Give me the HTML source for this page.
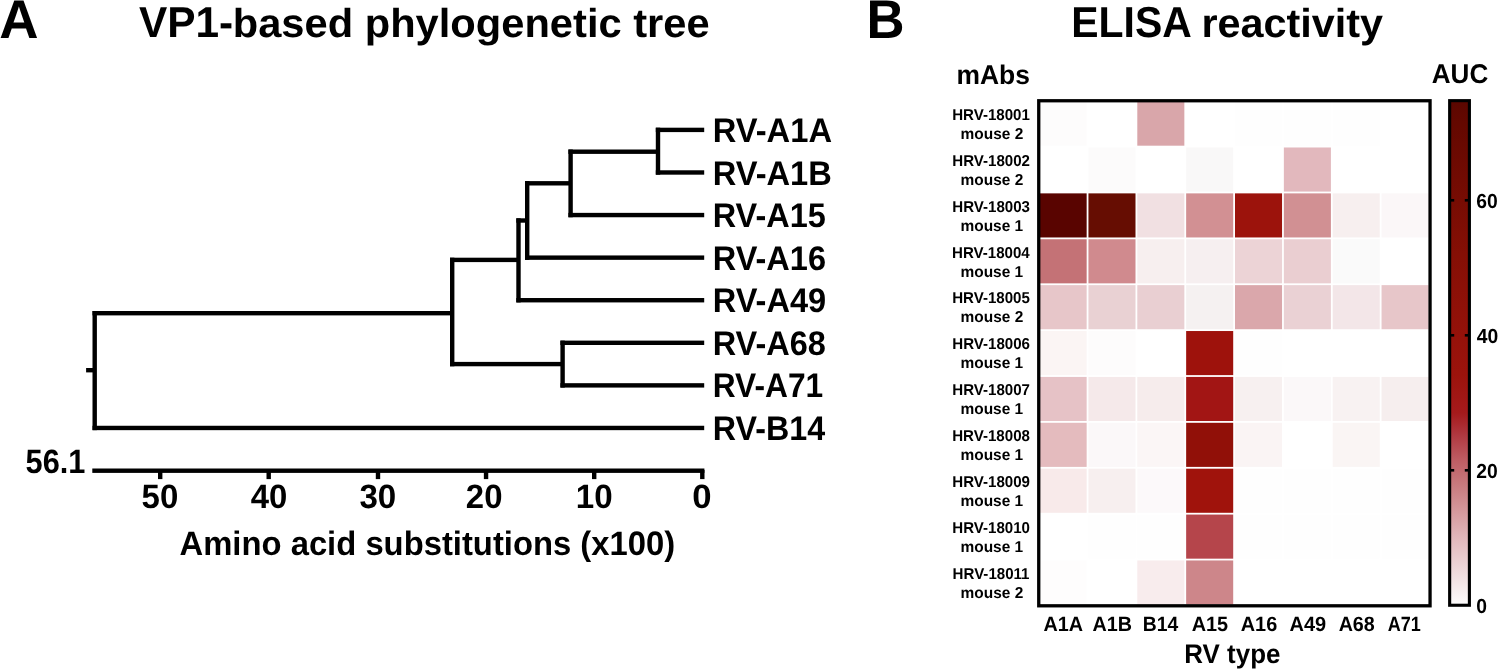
<!DOCTYPE html>
<html><head><meta charset="utf-8"><title>Figure</title>
<style>
html,body{margin:0;padding:0;background:#fff;width:1498px;height:669px;overflow:hidden}
svg{display:block;will-change:transform}
text{font-family:"Liberation Sans",sans-serif;font-weight:bold;fill:#000;text-rendering:geometricPrecision}
</style></head><body>
<svg width="1498" height="669" viewBox="0 0 1498 669">
<rect width="1498" height="669" fill="#fff"/>
<defs><linearGradient id="cb" x1="0" y1="102.3" x2="0" y2="605.3" gradientUnits="userSpaceOnUse"><stop offset="0.0000" stop-color="#5c0700"/><stop offset="0.0451" stop-color="#640800"/><stop offset="0.3036" stop-color="#850f05"/><stop offset="0.5421" stop-color="#9c130c"/><stop offset="0.6177" stop-color="#a51a1c"/><stop offset="0.6614" stop-color="#b03840"/><stop offset="0.7111" stop-color="#be5d63"/><stop offset="0.7608" stop-color="#c87a7e"/><stop offset="0.8602" stop-color="#e0b4b8"/><stop offset="0.9298" stop-color="#eed8da"/><stop offset="0.9895" stop-color="#fbf7f7"/><stop offset="1.0000" stop-color="#ffffff"/></linearGradient></defs>
<rect x="655.80" y="127.70" width="4.40" height="46.98" fill="#000"/>
<rect x="655.80" y="127.70" width="48.40" height="4.40" fill="#000"/>
<rect x="655.80" y="170.28" width="48.40" height="4.40" fill="#000"/>
<rect x="568.40" y="149.50" width="4.40" height="67.76" fill="#000"/>
<rect x="568.40" y="149.50" width="89.60" height="4.40" fill="#000"/>
<rect x="568.40" y="212.86" width="135.80" height="4.40" fill="#000"/>
<rect x="525.00" y="181.10" width="4.40" height="78.74" fill="#000"/>
<rect x="525.00" y="181.10" width="45.60" height="4.40" fill="#000"/>
<rect x="525.00" y="255.44" width="179.20" height="4.40" fill="#000"/>
<rect x="516.30" y="218.30" width="4.40" height="84.12" fill="#000"/>
<rect x="516.30" y="218.30" width="10.90" height="4.40" fill="#000"/>
<rect x="516.30" y="298.02" width="187.90" height="4.40" fill="#000"/>
<rect x="560.40" y="340.60" width="4.40" height="46.98" fill="#000"/>
<rect x="560.40" y="340.60" width="143.80" height="4.40" fill="#000"/>
<rect x="560.40" y="383.18" width="143.80" height="4.40" fill="#000"/>
<rect x="450.00" y="257.70" width="4.40" height="108.59" fill="#000"/>
<rect x="450.00" y="257.70" width="68.50" height="4.40" fill="#000"/>
<rect x="450.00" y="361.89" width="112.60" height="4.40" fill="#000"/>
<rect x="92.50" y="311.00" width="4.40" height="119.16" fill="#000"/>
<rect x="92.50" y="311.00" width="359.70" height="4.40" fill="#000"/>
<rect x="92.50" y="425.76" width="611.70" height="4.40" fill="#000"/>
<rect x="86.10" y="368.00" width="8.60" height="4.40" fill="#000"/>
<rect x="92.30" y="468.50" width="612.10" height="4.40" fill="#000"/>
<rect x="700.10" y="470.00" width="4.40" height="9.10" fill="#000"/>
<rect x="592.00" y="470.00" width="4.40" height="9.10" fill="#000"/>
<rect x="483.85" y="470.00" width="4.40" height="9.10" fill="#000"/>
<rect x="375.80" y="470.00" width="4.40" height="9.10" fill="#000"/>
<rect x="266.50" y="470.00" width="4.40" height="9.10" fill="#000"/>
<rect x="158.00" y="470.00" width="4.40" height="9.10" fill="#000"/>
<rect x="1039.60" y="101.60" width="47.05" height="44.09" fill="#fdfcfc"/>
<rect x="1137.30" y="101.60" width="47.05" height="44.09" fill="#d9a6aa"/>
<rect x="1235.00" y="101.60" width="47.05" height="44.09" fill="#fefefe"/>
<rect x="1283.85" y="101.60" width="47.05" height="44.09" fill="#fefefe"/>
<rect x="1332.70" y="101.60" width="47.05" height="44.09" fill="#fefefe"/>
<rect x="1088.45" y="147.49" width="47.05" height="44.09" fill="#fcfbfb"/>
<rect x="1186.15" y="147.49" width="47.05" height="44.09" fill="#f9f8f8"/>
<rect x="1283.85" y="147.49" width="47.05" height="44.09" fill="#e2b8bd"/>
<rect x="1039.60" y="193.37" width="47.05" height="44.09" fill="#590400"/>
<rect x="1088.45" y="193.37" width="47.05" height="44.09" fill="#660d02"/>
<rect x="1137.30" y="193.37" width="47.05" height="44.09" fill="#f1e0e2"/>
<rect x="1186.15" y="193.37" width="47.05" height="44.09" fill="#d29093"/>
<rect x="1235.00" y="193.37" width="47.05" height="44.09" fill="#9c130c"/>
<rect x="1283.85" y="193.37" width="47.05" height="44.09" fill="#d19093"/>
<rect x="1332.70" y="193.37" width="47.05" height="44.09" fill="#f7efef"/>
<rect x="1381.55" y="193.37" width="47.05" height="44.09" fill="#fbf7f8"/>
<rect x="1039.60" y="239.26" width="47.05" height="44.09" fill="#c47276"/>
<rect x="1088.45" y="239.26" width="47.05" height="44.09" fill="#d08a8e"/>
<rect x="1137.30" y="239.26" width="47.05" height="44.09" fill="#f7efef"/>
<rect x="1186.15" y="239.26" width="47.05" height="44.09" fill="#f6eff0"/>
<rect x="1235.00" y="239.26" width="47.05" height="44.09" fill="#ecd3d6"/>
<rect x="1283.85" y="239.26" width="47.05" height="44.09" fill="#eaced1"/>
<rect x="1332.70" y="239.26" width="47.05" height="44.09" fill="#fafafa"/>
<rect x="1039.60" y="285.14" width="47.05" height="44.09" fill="#e7c6c9"/>
<rect x="1088.45" y="285.14" width="47.05" height="44.09" fill="#e9d1d3"/>
<rect x="1137.30" y="285.14" width="47.05" height="44.09" fill="#e9cfd2"/>
<rect x="1186.15" y="285.14" width="47.05" height="44.09" fill="#f5f1f1"/>
<rect x="1235.00" y="285.14" width="47.05" height="44.09" fill="#daa7ab"/>
<rect x="1283.85" y="285.14" width="47.05" height="44.09" fill="#ead1d4"/>
<rect x="1332.70" y="285.14" width="47.05" height="44.09" fill="#f3e6e8"/>
<rect x="1381.55" y="285.14" width="47.05" height="44.09" fill="#e7c6c9"/>
<rect x="1039.60" y="331.03" width="47.05" height="44.09" fill="#fbf5f4"/>
<rect x="1088.45" y="331.03" width="47.05" height="44.09" fill="#fdfcfc"/>
<rect x="1186.15" y="331.03" width="47.05" height="44.09" fill="#9e120c"/>
<rect x="1235.00" y="331.03" width="47.05" height="44.09" fill="#fefefe"/>
<rect x="1039.60" y="376.92" width="47.05" height="44.09" fill="#e6c2c6"/>
<rect x="1088.45" y="376.92" width="47.05" height="44.09" fill="#f5e9ea"/>
<rect x="1137.30" y="376.92" width="47.05" height="44.09" fill="#f6ecec"/>
<rect x="1186.15" y="376.92" width="47.05" height="44.09" fill="#a21514"/>
<rect x="1235.00" y="376.92" width="47.05" height="44.09" fill="#f7f0f0"/>
<rect x="1283.85" y="376.92" width="47.05" height="44.09" fill="#fbf8f9"/>
<rect x="1332.70" y="376.92" width="47.05" height="44.09" fill="#f8f2f2"/>
<rect x="1381.55" y="376.92" width="47.05" height="44.09" fill="#f6eeee"/>
<rect x="1039.60" y="422.80" width="47.05" height="44.09" fill="#e4bbbe"/>
<rect x="1088.45" y="422.80" width="47.05" height="44.09" fill="#fbf8f9"/>
<rect x="1137.30" y="422.80" width="47.05" height="44.09" fill="#fbf6f6"/>
<rect x="1186.15" y="422.80" width="47.05" height="44.09" fill="#911008"/>
<rect x="1235.00" y="422.80" width="47.05" height="44.09" fill="#faf4f4"/>
<rect x="1332.70" y="422.80" width="47.05" height="44.09" fill="#faf5f4"/>
<rect x="1039.60" y="468.69" width="47.05" height="44.09" fill="#f8eaea"/>
<rect x="1088.45" y="468.69" width="47.05" height="44.09" fill="#f7efef"/>
<rect x="1137.30" y="468.69" width="47.05" height="44.09" fill="#fcf9fa"/>
<rect x="1186.15" y="468.69" width="47.05" height="44.09" fill="#a0130c"/>
<rect x="1235.00" y="468.69" width="47.05" height="44.09" fill="#fefefe"/>
<rect x="1283.85" y="468.69" width="47.05" height="44.09" fill="#fefefe"/>
<rect x="1332.70" y="468.69" width="47.05" height="44.09" fill="#fefefe"/>
<rect x="1381.55" y="468.69" width="47.05" height="44.09" fill="#fefefe"/>
<rect x="1088.45" y="514.57" width="47.05" height="44.09" fill="#fefefe"/>
<rect x="1137.30" y="514.57" width="47.05" height="44.09" fill="#fefefe"/>
<rect x="1186.15" y="514.57" width="47.05" height="44.09" fill="#b5454b"/>
<rect x="1235.00" y="514.57" width="47.05" height="44.09" fill="#fefefe"/>
<rect x="1283.85" y="514.57" width="47.05" height="44.09" fill="#fefefe"/>
<rect x="1332.70" y="514.57" width="47.05" height="44.09" fill="#fefefe"/>
<rect x="1381.55" y="514.57" width="47.05" height="44.09" fill="#fefefe"/>
<rect x="1039.60" y="560.46" width="47.05" height="44.09" fill="#fefdfd"/>
<rect x="1137.30" y="560.46" width="47.05" height="44.09" fill="#f8eced"/>
<rect x="1186.15" y="560.46" width="47.05" height="44.09" fill="#cd868a"/>
<rect x="1038.75" y="100.75" width="391.3" height="505.05" fill="none" stroke="#000" stroke-width="3.3"/>
<rect x="1449.65" y="100.65" width="19.75" height="504.60" fill="url(#cb)"/>
<rect x="1449.65" y="100.65" width="19.75" height="504.6" fill="none" stroke="#000" stroke-width="3.1"/>
<rect x="1451.00" y="199.00" width="3.20" height="2.60" fill="#000"/>
<rect x="1464.80" y="199.00" width="3.20" height="2.60" fill="#000"/>
<rect x="1451.00" y="334.00" width="3.20" height="2.60" fill="#000"/>
<rect x="1464.80" y="334.00" width="3.20" height="2.60" fill="#000"/>
<rect x="1451.00" y="469.00" width="3.20" height="2.60" fill="#000"/>
<rect x="1464.80" y="469.00" width="3.20" height="2.60" fill="#000"/>
<text x="-0.76" y="37.8" font-size="54.35" textLength="39.3" lengthAdjust="spacingAndGlyphs">A</text>
<text x="138.97" y="37.35" font-size="43.12" textLength="94.24" lengthAdjust="spacingAndGlyphs">VP1-</text>
<text x="232.74" y="37.35" font-size="40.44" textLength="476.91" lengthAdjust="spacingAndGlyphs">based phylogenetic tree</text>
<text x="712.71" y="142.15" font-size="34.13" textLength="119.3" lengthAdjust="spacingAndGlyphs">RV-A1A</text>
<text x="712.71" y="184.7" font-size="34.13" textLength="119.17" lengthAdjust="spacingAndGlyphs">RV-A1B</text>
<text x="712.73" y="227.25" font-size="34.13" textLength="113.1" lengthAdjust="spacingAndGlyphs">RV-A15</text>
<text x="712.72" y="269.8" font-size="34.13" textLength="113.35" lengthAdjust="spacingAndGlyphs">RV-A16</text>
<text x="712.72" y="312.35" font-size="34.13" textLength="113.38" lengthAdjust="spacingAndGlyphs">RV-A49</text>
<text x="712.73" y="354.9" font-size="34.13" textLength="113.17" lengthAdjust="spacingAndGlyphs">RV-A68</text>
<text x="712.78" y="397.45" font-size="34.13" textLength="110.5" lengthAdjust="spacingAndGlyphs">RV-A71</text>
<text x="712.74" y="440.0" font-size="34.13" textLength="112.33" lengthAdjust="spacingAndGlyphs">RV-B14</text>
<text x="25.62" y="473.16" font-size="33.66" textLength="59.84" lengthAdjust="spacingAndGlyphs">56.1</text>
<text x="141.55" y="507.86" font-size="33.8" textLength="36.7" lengthAdjust="spacingAndGlyphs">50</text>
<text x="250.7" y="507.86" font-size="33.8" textLength="36.55" lengthAdjust="spacingAndGlyphs">40</text>
<text x="359.41" y="507.86" font-size="33.8" textLength="36.84" lengthAdjust="spacingAndGlyphs">30</text>
<text x="465.85" y="507.86" font-size="33.8" textLength="36.6" lengthAdjust="spacingAndGlyphs">20</text>
<text x="575.71" y="507.86" font-size="33.8" textLength="36.85" lengthAdjust="spacingAndGlyphs">10</text>
<text x="692.21" y="507.86" font-size="33.8" textLength="19.32" lengthAdjust="spacingAndGlyphs">0</text>
<text x="179.52" y="555.2" font-size="33.91" textLength="495.63" lengthAdjust="spacingAndGlyphs">Amino acid substitutions (x100)</text>
<text x="866.38" y="38.0" font-size="54.64" textLength="38.02" lengthAdjust="spacingAndGlyphs">B</text>
<text x="1071.26" y="37.2" font-size="43.33" textLength="120.5" lengthAdjust="spacingAndGlyphs">ELISA</text>
<text x="1201.46" y="37.1" font-size="40.44" textLength="181.66" lengthAdjust="spacingAndGlyphs">reactivity</text>
<text x="956.45" y="83.7" font-size="27.1" textLength="73.43" lengthAdjust="spacingAndGlyphs">mAbs</text>
<text x="1431.8" y="83.4" font-size="27.1" textLength="56.47" lengthAdjust="spacingAndGlyphs">AUC</text>
<text x="952.19" y="120.0" font-size="15.8" textLength="77.72" lengthAdjust="spacingAndGlyphs">HRV-18001</text>
<text x="960.58" y="138.9" font-size="15.8" textLength="62.74" lengthAdjust="spacingAndGlyphs">mouse 2</text>
<text x="952.28" y="165.87" font-size="15.8" textLength="77.72" lengthAdjust="spacingAndGlyphs">HRV-18002</text>
<text x="960.58" y="184.77" font-size="15.8" textLength="62.74" lengthAdjust="spacingAndGlyphs">mouse 2</text>
<text x="952.25" y="211.74" font-size="15.8" textLength="77.72" lengthAdjust="spacingAndGlyphs">HRV-18003</text>
<text x="960.48" y="230.64" font-size="15.8" textLength="62.74" lengthAdjust="spacingAndGlyphs">mouse 1</text>
<text x="952.02" y="257.61" font-size="15.8" textLength="77.72" lengthAdjust="spacingAndGlyphs">HRV-18004</text>
<text x="960.48" y="276.51" font-size="15.8" textLength="62.74" lengthAdjust="spacingAndGlyphs">mouse 1</text>
<text x="952.19" y="303.48" font-size="15.8" textLength="77.72" lengthAdjust="spacingAndGlyphs">HRV-18005</text>
<text x="960.58" y="322.38" font-size="15.8" textLength="62.74" lengthAdjust="spacingAndGlyphs">mouse 2</text>
<text x="952.25" y="349.35" font-size="15.8" textLength="77.72" lengthAdjust="spacingAndGlyphs">HRV-18006</text>
<text x="960.48" y="368.25" font-size="15.8" textLength="62.74" lengthAdjust="spacingAndGlyphs">mouse 1</text>
<text x="952.31" y="395.22" font-size="15.8" textLength="77.72" lengthAdjust="spacingAndGlyphs">HRV-18007</text>
<text x="960.48" y="414.12" font-size="15.8" textLength="62.74" lengthAdjust="spacingAndGlyphs">mouse 1</text>
<text x="952.21" y="441.09" font-size="15.8" textLength="77.72" lengthAdjust="spacingAndGlyphs">HRV-18008</text>
<text x="960.48" y="459.99" font-size="15.8" textLength="62.74" lengthAdjust="spacingAndGlyphs">mouse 1</text>
<text x="952.26" y="486.96" font-size="15.8" textLength="77.72" lengthAdjust="spacingAndGlyphs">HRV-18009</text>
<text x="960.48" y="505.86" font-size="15.8" textLength="62.74" lengthAdjust="spacingAndGlyphs">mouse 1</text>
<text x="952.29" y="532.83" font-size="15.8" textLength="77.72" lengthAdjust="spacingAndGlyphs">HRV-18010</text>
<text x="960.48" y="551.73" font-size="15.8" textLength="62.74" lengthAdjust="spacingAndGlyphs">mouse 1</text>
<text x="952.61" y="578.7" font-size="15.8" textLength="76.89" lengthAdjust="spacingAndGlyphs">HRV-18011</text>
<text x="960.58" y="597.6" font-size="15.8" textLength="62.74" lengthAdjust="spacingAndGlyphs">mouse 2</text>
<text x="1043.47" y="630.9" font-size="20.58" textLength="39.58" lengthAdjust="spacingAndGlyphs">A1A</text>
<text x="1092.57" y="630.9" font-size="20.58" textLength="39.53" lengthAdjust="spacingAndGlyphs">A1B</text>
<text x="1142.8" y="630.9" font-size="20.58" textLength="35.49" lengthAdjust="spacingAndGlyphs">B14</text>
<text x="1191.67" y="630.9" font-size="20.58" textLength="36.48" lengthAdjust="spacingAndGlyphs">A15</text>
<text x="1240.77" y="630.9" font-size="20.58" textLength="36.45" lengthAdjust="spacingAndGlyphs">A16</text>
<text x="1289.56" y="630.9" font-size="20.58" textLength="36.67" lengthAdjust="spacingAndGlyphs">A49</text>
<text x="1338.67" y="630.9" font-size="20.58" textLength="36.13" lengthAdjust="spacingAndGlyphs">A68</text>
<text x="1387.72" y="630.9" font-size="20.58" textLength="33.08" lengthAdjust="spacingAndGlyphs">A71</text>
<text x="1184.36" y="662.9" font-size="26.81" textLength="96.04" lengthAdjust="spacingAndGlyphs">RV type</text>
<text x="1476.29" y="208.0" font-size="20.28" textLength="21.5" lengthAdjust="spacingAndGlyphs">60</text>
<text x="1476.71" y="343.0" font-size="20.28" textLength="21.5" lengthAdjust="spacingAndGlyphs">40</text>
<text x="1476.32" y="478.0" font-size="20.28" textLength="21.5" lengthAdjust="spacingAndGlyphs">20</text>
<text x="1476.23" y="613.0" font-size="20.28" textLength="10.75" lengthAdjust="spacingAndGlyphs">0</text>
</svg>
</body></html>
